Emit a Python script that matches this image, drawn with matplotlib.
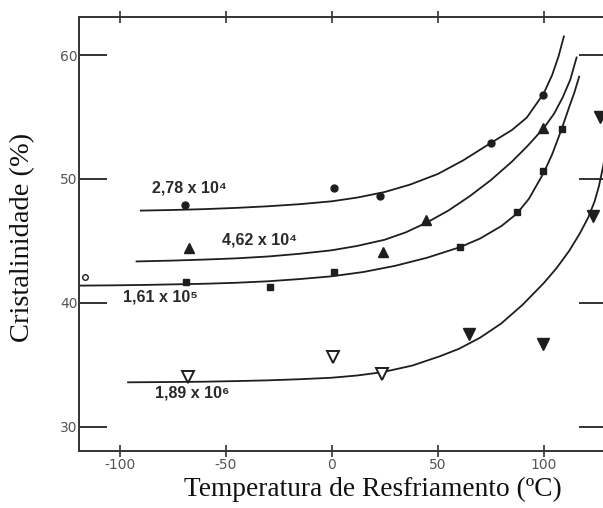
import matplotlib
matplotlib.use('Agg')
import matplotlib.pyplot as plt

# ─── DADOS ────────────────────────────────────────────────────────────────────
# pontos experimentais (temperatura de resfriamento em ºC, cristalinidade em %)
T_278 = [-69, 1, 23, 75, 99.5]
C_278 = [47.9, 49.25, 48.65, 52.9, 56.8]

T_462 = [-67.5, 24, 44.5, 99.8]
C_462 = [44.4, 44.15, 46.7, 54.1]

T_161 = [-68.6, -29, 1.3, 60.5, 87.3, 99.8, 108.4]
C_161 = [41.72, 41.31, 42.52, 44.55, 47.3, 50.65, 54.0]

T_189_abertos = [-67.6, 0.8, 23.6]
C_189_abertos = [34.06, 35.67, 34.27]
T_189_cheios = [65, 99.7, 123.3, 126.5]
C_189_cheios = [37.5, 36.7, 47.0, 55.0]

# ponto isolado junto ao eixo
T_extra = [-116.3]
C_extra = [42.1]

# curvas ajustadas, lidas ponto a ponto
TC_278 = [-90, -75, -60, -45, -30, -15, 0, 12, 25, 37, 50, 62, 75, 85, 92,
          100, 104, 107, 109.5]
CC_278 = [47.45, 47.5, 47.57, 47.67, 47.8, 47.97, 48.2, 48.5, 48.95, 49.55, 50.4,
          51.5, 52.9, 53.95, 54.95, 56.9, 58.4, 59.9, 61.5]

TC_462 = [-92, -75, -60, -45, -30, -15, 0, 12, 25, 35, 45, 55, 65, 75, 85, 92,
          100, 105, 109, 112.5, 115.5]
CC_462 = [43.35, 43.42, 43.5, 43.6, 43.75, 43.97, 44.25, 44.6, 45.1, 45.7, 46.5,
          47.45, 48.6, 49.9, 51.4, 52.6, 54.1, 55.3, 56.6, 58.0, 59.8]

TC_161 = [-119, -105, -90, -75, -60, -45, -30, -15, 0, 15, 30, 45, 60.5, 70, 80,
          87.3, 93, 100, 104, 108.4, 112, 114.5, 116.7]
CC_161 = [41.4, 41.42, 41.45, 41.5, 41.55, 41.63, 41.75, 41.93, 42.15, 42.5, 43.0,
          43.65, 44.5, 45.2, 46.2, 47.2, 48.4, 50.5, 52.0, 54.0, 55.8, 57.0, 58.25]

TC_189 = [-96, -80, -60, -45, -30, -15, 0, 12, 24, 38, 51, 60, 70, 80, 90, 100,
          106, 112, 117, 121, 124, 126, 128, 130]
CC_189 = [33.6, 33.62, 33.65, 33.7, 33.76, 33.85, 33.97, 34.15, 34.42, 34.95, 35.7,
          36.3, 37.2, 38.35, 39.85, 41.6, 42.8, 44.2, 45.6, 46.9, 48.2, 49.4, 51.0, 53.0]

ROTULOS = ['2,78 x 10⁴', '4,62 x 10⁴', '1,61 x 10⁵', '1,89 x 10⁶']
POS_ROTULOS = [(-84.9, 49.25), (-51.9, 45.08), (-98.3, 40.46), (-83.3, 32.77)]

X_TICKS = [-100, -50, 0, 50, 100]
Y_TICKS = [30, 40, 50, 60]

# ─── FIGURA ───────────────────────────────────────────────────────────────────
COR = '#1e1e1e'
fig = plt.figure(figsize=(6.03, 5.08), dpi=100)
ax = fig.add_axes([0.1315, 0.1122, 0.875, 0.8549])

for tc, cc in [(TC_278, CC_278), (TC_462, CC_462), (TC_161, CC_161), (TC_189, CC_189)]:
    ax.plot(tc, cc, color=COR, linewidth=1.3, zorder=2, solid_joinstyle='round')

ax.plot(T_278, C_278, 'o', color=COR, markersize=5, zorder=3)
ax.plot(T_462, C_462, '^', color=COR, markersize=7, zorder=3)
ax.plot(T_161, C_161, 's', color=COR, markersize=4.5, zorder=3)
ax.plot(T_189_abertos, C_189_abertos, 'v', markerfacecolor='white',
        markeredgecolor=COR, markeredgewidth=1.4, markersize=9, zorder=3)
ax.plot(T_189_cheios, C_189_cheios, 'v', color=COR, markersize=8, zorder=3)
ax.plot(T_extra, C_extra, 'o', markerfacecolor='white', markeredgecolor=COR,
        markeredgewidth=1.0, markersize=4, zorder=3, clip_on=False)

for texto, (x, y) in zip(ROTULOS, POS_ROTULOS):
    ax.text(x, y, texto, ha='left', va='center', fontsize=11.5, fontweight='bold',
            color='#2a2a2a', family=['Liberation Sans', 'DejaVu Sans'])

ax.set_xlim(-119, 129.8)
ax.set_ylim(28.06, 63.09)
ax.set_xticks(X_TICKS)
ax.set_yticks(Y_TICKS)
ax.set_xticklabels([str(v) for v in X_TICKS])
ax.set_yticklabels([str(v) for v in Y_TICKS])

ax.tick_params(axis='y', which='both', direction='in', length=20, width=1.4,
               colors='#333333', labelsize=10, pad=1, right=True)
ax.tick_params(axis='x', which='both', direction='inout', length=8, width=1.2,
               colors='#333333', labelsize=10, pad=1, top=True)
for lab in ax.get_xticklabels() + ax.get_yticklabels():
    lab.set_color('#555555')

for lado in ['left', 'bottom', 'top', 'right']:
    ax.spines[lado].set_linewidth(1.4)
    ax.spines[lado].set_color('#333333')

fig.text(0.618, 0.037, 'Temperatura de Resfriamento (ºC)', ha='center', va='center',
         fontsize=19.7, family='Liberation Serif', color='#111111')
fig.text(0.038, 0.533, 'Cristalinidade (%)', ha='center', va='center', rotation=90,
         fontsize=20.5, family='Liberation Serif', color='#111111')

fig.savefig('out.png', dpi=100)
